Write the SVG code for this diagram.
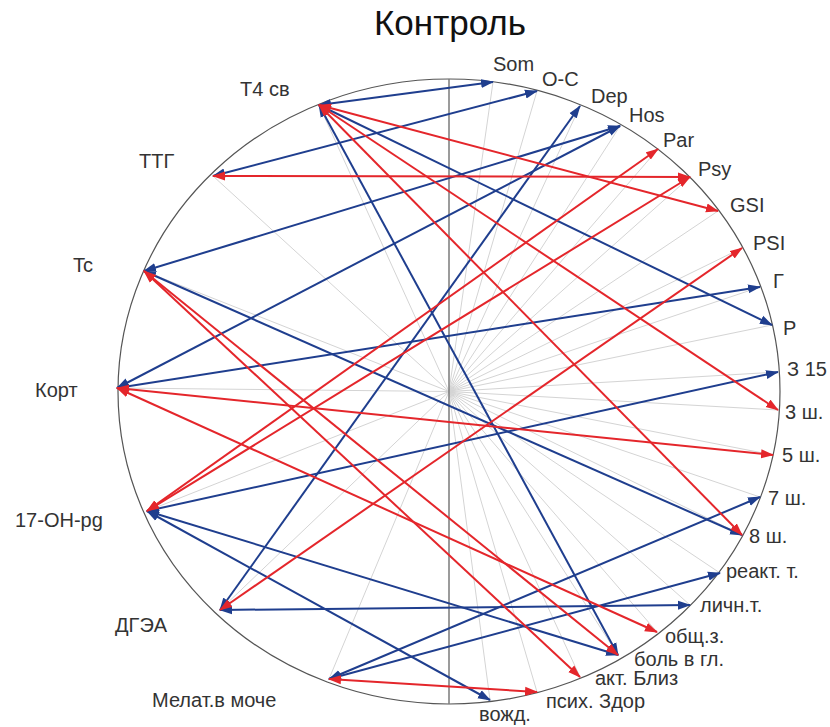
<svg xmlns="http://www.w3.org/2000/svg" width="830" height="727" viewBox="0 0 830 727">
<style>
.lbl{font-family:"Liberation Sans",Arial,sans-serif;font-size:20px;fill:#333}
.title{font-family:"Liberation Sans",Arial,sans-serif;font-size:35px;fill:#111}
.spoke{stroke:#d4d4d4;stroke-width:1;fill:none}
.b{stroke:#1f3e8e;stroke-width:2;fill:none;marker-start:url(#ab);marker-end:url(#ab)}
.r{stroke:#e4262b;stroke-width:2;fill:none;marker-start:url(#ar);marker-end:url(#ar)}
</style>
<defs>
<marker id="ab" viewBox="0 0 13 10" refX="12" refY="5" markerWidth="13" markerHeight="10" markerUnits="userSpaceOnUse" orient="auto-start-reverse"><path d="M0,0.5 L13,5 L0,9.5 z" fill="#1f3e8e"/></marker>
<marker id="ar" viewBox="0 0 13 10" refX="12" refY="5" markerWidth="13" markerHeight="10" markerUnits="userSpaceOnUse" orient="auto-start-reverse"><path d="M0,0.5 L13,5 L0,9.5 z" fill="#e4262b"/></marker>
</defs>
<rect width="830" height="727" fill="#fff"/>
<text class="title" x="450" y="35" text-anchor="middle">Контроль</text>
<g id="frame">
<ellipse cx="449" cy="391.5" rx="331" ry="312.5" fill="none" stroke="#555" stroke-width="1.2"/>
<g class="spoke">
<path d="M449,391.5L493,82M449,391.5L537,91M449,391.5L580,106M449,391.5L620,126M449,391.5L658,149M449,391.5L690,177M449,391.5L718,211M449,391.5L742,248M449,391.5L760,287M449,391.5L772,325M449,391.5L778,372M449,391.5L778,410M449,391.5L773,455M449,391.5L760,497M449,391.5L742,535M449,391.5L720,573M449,391.5L690,605M449,391.5L657,632M449,391.5L618,655M449,391.5L580,677M449,391.5L537,692M449,391.5L490,700M449,391.5L329,679M449,391.5L220,610M449,391.5L147,511M449,391.5L117,388M449,391.5L144,271M449,391.5L213,176M449,391.5L319,105"/>
</g>
<line x1="449" y1="79" x2="449" y2="704" stroke="#7a7a7a" stroke-width="1.5"/>
</g>
<g id="connectors">
<line class="b" x1="319" y1="105" x2="493" y2="82"/>
<line class="b" x1="213" y1="176" x2="537" y2="91"/>
<line class="b" x1="144" y1="271" x2="620" y2="126"/>
<line class="b" x1="117" y1="388" x2="620" y2="126"/>
<line class="b" x1="117" y1="388" x2="760" y2="287"/>
<line class="b" x1="220" y1="610" x2="580" y2="106"/>
<line class="b" x1="220" y1="610" x2="690" y2="605"/>
<line class="b" x1="319" y1="105" x2="772" y2="325"/>
<line class="b" x1="319" y1="105" x2="618" y2="655"/>
<line class="b" x1="144" y1="271" x2="742" y2="535"/>
<line class="b" x1="147" y1="511" x2="778" y2="372"/>
<line class="b" x1="147" y1="511" x2="618" y2="655"/>
<line class="b" x1="147" y1="511" x2="490" y2="700"/>
<line class="b" x1="329" y1="679" x2="760" y2="497"/>
<line class="b" x1="329" y1="679" x2="720" y2="573"/>
<line class="r" x1="213" y1="176" x2="690" y2="177"/>
<line class="r" x1="319" y1="105" x2="718" y2="211"/>
<line class="r" x1="319" y1="105" x2="778" y2="410"/>
<line class="r" x1="319" y1="105" x2="742" y2="535"/>
<line class="r" x1="147" y1="511" x2="658" y2="149"/>
<line class="r" x1="147" y1="511" x2="690" y2="177"/>
<line class="r" x1="220" y1="610" x2="742" y2="248"/>
<line class="r" x1="117" y1="388" x2="773" y2="455"/>
<line class="r" x1="117" y1="388" x2="657" y2="632"/>
<line class="r" x1="144" y1="271" x2="580" y2="677"/>
<line class="r" x1="144" y1="271" x2="618" y2="655"/>
<line class="r" x1="329" y1="679" x2="537" y2="692"/>
</g>
<g id="n-som"><text class="lbl" x="493" y="71">Som</text></g>
<g id="n-oc"><text class="lbl" x="542" y="86">O-C</text></g>
<g id="n-dep"><text class="lbl" x="591" y="103">Dep</text></g>
<g id="n-hos"><text class="lbl" x="629" y="122">Hos</text></g>
<g id="n-par"><text class="lbl" x="663" y="147">Par</text></g>
<g id="n-psy"><text class="lbl" x="698" y="176">Psy</text></g>
<g id="n-gsi"><text class="lbl" x="730" y="212">GSI</text></g>
<g id="n-psi"><text class="lbl" x="753" y="250">PSI</text></g>
<g id="n-g"><text class="lbl" x="773" y="288">Г</text></g>
<g id="n-r"><text class="lbl" x="783" y="335">Р</text></g>
<g id="n-z15"><text class="lbl" x="787" y="376">З 15</text></g>
<g id="n-3sh"><text class="lbl" x="785" y="419">3 ш.</text></g>
<g id="n-5sh"><text class="lbl" x="782" y="462">5 ш.</text></g>
<g id="n-7sh"><text class="lbl" x="768" y="505">7 ш.</text></g>
<g id="n-8sh"><text class="lbl" x="749" y="543">8 ш.</text></g>
<g id="n-react"><text class="lbl" x="726" y="578">реакт. т.</text></g>
<g id="n-lichn"><text class="lbl" x="700" y="612">личн.т.</text></g>
<g id="n-obsch"><text class="lbl" x="665" y="643">общ.з.</text></g>
<g id="n-bol"><text class="lbl" x="634" y="666">боль в гл.</text></g>
<g id="n-akt"><text class="lbl" x="595" y="685">акт. Близ</text></g>
<g id="n-psih"><text class="lbl" x="546" y="708">псих. Здор</text></g>
<g id="n-vozhd"><text class="lbl" x="479" y="721">вожд.</text></g>
<g id="n-melat"><text class="lbl" x="152" y="707">Мелат.в моче</text></g>
<g id="n-dgea"><text class="lbl" x="115" y="632">ДГЭА</text></g>
<g id="n-17oh"><text class="lbl" x="15" y="527">17-OH-pg</text></g>
<g id="n-kort"><text class="lbl" x="35" y="397">Корт</text></g>
<g id="n-tc"><text class="lbl" x="73" y="272">Tc</text></g>
<g id="n-ttg"><text class="lbl" x="139" y="168">ТТГ</text></g>
<g id="n-t4"><text class="lbl" x="240" y="96">Т4 св</text></g>
</svg>
